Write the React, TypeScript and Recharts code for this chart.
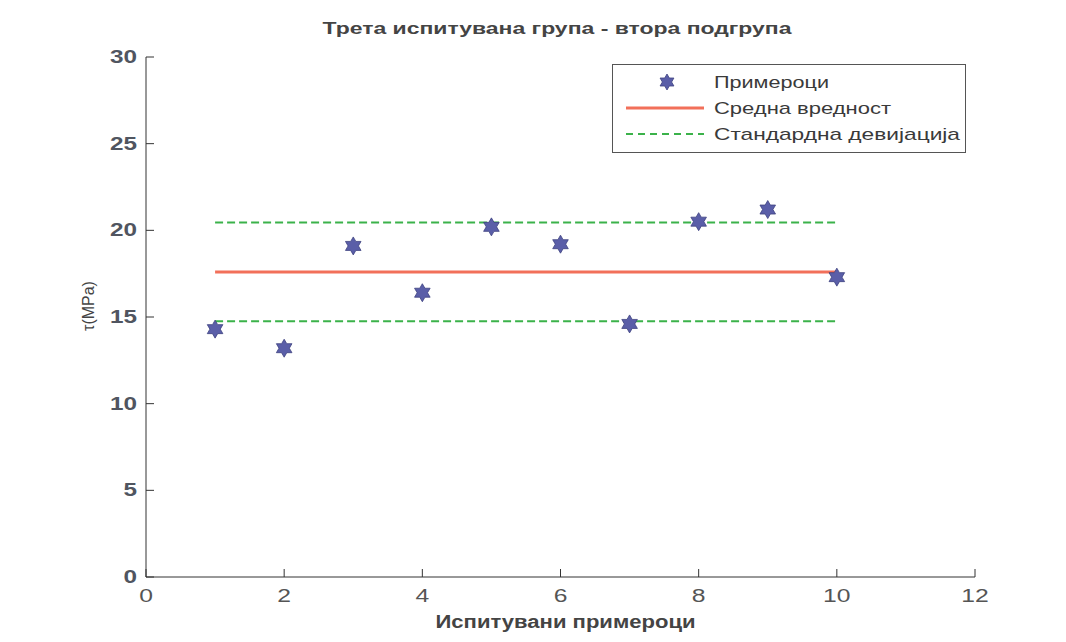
import React from 'react';
import { ComposedChart, Scatter, Line, XAxis, YAxis } from 'recharts';

const samples = [1, 2, 3, 4, 5, 6, 7, 8, 9, 10];
const tau = [14.3, 13.2, 19.1, 16.4, 20.2, 19.2, 14.6, 20.5, 21.2, 17.3];
const meanValue = 17.6;
const upperStd = 20.45;
const lowerStd = 14.75;
const xTicks = [0, 2, 4, 6, 8, 10, 12];
const yTicks = [0, 5, 10, 15, 20, 25, 30];

const title = 'Трета испитувана група - втора подгрупа';
const xLabel = 'Испитувани примероци';
const yLabel = 'τ(MPa)';
const legendNames = ['Примероци', 'Средна вредност', 'Стандардна девијација'];

const pointData = samples.map((x, i) => ({ x, y: tau[i] }));
const first = samples[0];
const last = samples[samples.length - 1];
const meanData = [{ x: first, y: meanValue }, { x: last, y: meanValue }];
const upperData = [{ x: first, y: upperStd }, { x: last, y: upperStd }];
const lowerData = [{ x: first, y: lowerStd }, { x: last, y: lowerStd }];

const STAR = '#5a5ea8';
const MEAN = '#f2705a';
const STD = '#3bb24a';
const AXIS = '#333';
const FONT = 'Liberation Sans, Arial, sans-serif';
const TICKLEN = 8;

function starPoints(cx: number, cy: number, r: number) {
  const pts: string[] = [];
  const ri = r / Math.sqrt(3);
  for (let i = 0; i < 12; i++) {
    const ang = (-90 + i * 30) * Math.PI / 180;
    const rr = i % 2 === 0 ? r : ri;
    pts.push(`${cx + rr * Math.cos(ang)},${cy + rr * Math.sin(ang)}`);
  }
  return pts.join(' ');
}

const StarShape = (props: any) => {
  const { cx, cy } = props;
  if (cx == null || cy == null) return <g />;
  return <polygon points={starPoints(cx, cy, 9)} fill={STAR} stroke="#3f4380" strokeWidth={0.8} />;
};

const BottomTick = (props: any) => {
  const { x, y, payload } = props;
  return (
    <g>
      <line x1={x} x2={x} y1={y} y2={y - TICKLEN} stroke={AXIS} strokeWidth={1} />
      <text transform={`translate(${x},${y + 25}) scale(1.3,1)`} textAnchor="middle" fontSize={19} fill="#555" fontFamily={FONT}>
        {payload.value}
      </text>
    </g>
  );
};

const LeftTick = (props: any) => {
  const { x, y, payload } = props;
  return (
    <g>
      <line x1={x} x2={x + TICKLEN} y1={y} y2={y} stroke={AXIS} strokeWidth={1} />
      <text transform={`translate(${x - 9},${y + 6}) scale(1.35,1)`} textAnchor="end" fontSize={18} fontWeight="bold" fill="#505560" fontFamily={FONT}>
        {payload.value}
      </text>
    </g>
  );
};

const TopTick = (props: any) => {
  const { x, y } = props;
  return <line x1={x} x2={x} y1={y} y2={y + TICKLEN} stroke={AXIS} strokeWidth={1} />;
};

const RightTick = (props: any) => {
  const { x, y } = props;
  return <line x1={x} x2={x - TICKLEN} y1={y} y2={y} stroke={AXIS} strokeWidth={1} />;
};

const XLabelContent = (props: any) => {
  const vb = props.viewBox || {};
  const cx = vb.x + vb.width / 2 + 5;
  return (
    <text x={cx} y={vb.y + 51} textAnchor="middle" fontSize={18} fontWeight="bold" fill="#444" fontFamily={FONT} textLength={260} lengthAdjust="spacingAndGlyphs">
      {xLabel}
    </text>
  );
};

const YLabelContent = (props: any) => {
  const vb = props.viewBox || {};
  const x = vb.x + 94;
  const y = vb.y + vb.height / 2 - 11;
  return (
    <text transform={`translate(${x},${y}) rotate(-90)`} textAnchor="middle" fontSize={16} fill="#444" fontFamily={FONT}>
      {yLabel}
    </text>
  );
};

const LegendBox = () => (
  <svg width={354} height={89} style={{ display: 'block' }}>
    <rect x={0.5} y={0.5} width={353} height={88} fill="#fff" stroke="#555" strokeWidth={1} />
    <polygon points={starPoints(55, 18, 8)} fill={STAR} stroke="#3f4380" strokeWidth={0.8} />
    <text x={102} y={24} fontSize={17} fill="#3a3a3a" fontFamily={FONT} textLength={115} lengthAdjust="spacingAndGlyphs">{legendNames[0]}</text>
    <line x1={14} x2={92} y1={44} y2={44} stroke={MEAN} strokeWidth={3} />
    <text x={102} y={50} fontSize={17} fill="#3a3a3a" fontFamily={FONT} textLength={177} lengthAdjust="spacingAndGlyphs">{legendNames[1]}</text>
    <line x1={14} x2={92} y1={70} y2={70} stroke={STD} strokeWidth={2} strokeDasharray="7 5" />
    <text x={102} y={76} fontSize={17} fill="#3a3a3a" fontFamily={FONT} textLength={246} lengthAdjust="spacingAndGlyphs">{legendNames[2]}</text>
  </svg>
);

export default function App() {
  return (
    <div style={{ position: 'absolute', left: 0, top: 0, width: 1066, height: 642, background: '#fff' }}>
      <ComposedChart width={1066} height={642} margin={{ top: 57, right: 91, bottom: 0, left: 0 }}>
        <XAxis
          xAxisId={0}
          type="number"
          dataKey="x"
          domain={[0, 12]}
          ticks={xTicks}
          allowDataOverflow
          height={65}
          stroke={AXIS}
          tickSize={0}
          tickMargin={0}
          tickLine={false}
          tick={(p: any) => <BottomTick {...p} />}
          label={<XLabelContent />}
        />
        <XAxis
          xAxisId="top"
          orientation="top"
          type="number"
          domain={[0, 12]}
          ticks={xTicks}
          height={0}
          stroke={AXIS}
          tickSize={0}
          tickMargin={0}
          tickLine={false}
          tick={(p: any) => <TopTick {...p} />}
        />
        <YAxis
          yAxisId={0}
          type="number"
          domain={[0, 30]}
          ticks={yTicks}
          allowDataOverflow
          width={146}
          stroke={AXIS}
          tickSize={0}
          tickMargin={0}
          tickLine={false}
          tick={(p: any) => <LeftTick {...p} />}
          label={<YLabelContent />}
        />
        <YAxis
          yAxisId="right"
          orientation="right"
          type="number"
          domain={[0, 30]}
          ticks={yTicks}
          width={0}
          stroke={AXIS}
          tickSize={0}
          tickMargin={0}
          tickLine={false}
          tick={(p: any) => <RightTick {...p} />}
        />
        <Line data={upperData} dataKey="y" stroke={STD} strokeWidth={2} strokeDasharray="8 4" dot={false} isAnimationActive={false} />
        <Line data={lowerData} dataKey="y" stroke={STD} strokeWidth={2} strokeDasharray="8 4" dot={false} isAnimationActive={false} />
        <Line data={meanData} dataKey="y" stroke={MEAN} strokeWidth={3} dot={false} isAnimationActive={false} />
        <Scatter data={pointData} dataKey="y" shape={<StarShape />} isAnimationActive={false} />
      </ComposedChart>
      <svg style={{ position: 'absolute', left: 0, top: 0 }} width={1066} height={50}>
        <text x={557} y={34} textAnchor="middle" fontSize={17} fontWeight="bold" fill="#444" fontFamily={FONT} textLength={469} lengthAdjust="spacingAndGlyphs">
          {title}
        </text>
      </svg>
      <div style={{ position: 'absolute', left: 612, top: 64 }}>
        <LegendBox />
      </div>
    </div>
  );
}
